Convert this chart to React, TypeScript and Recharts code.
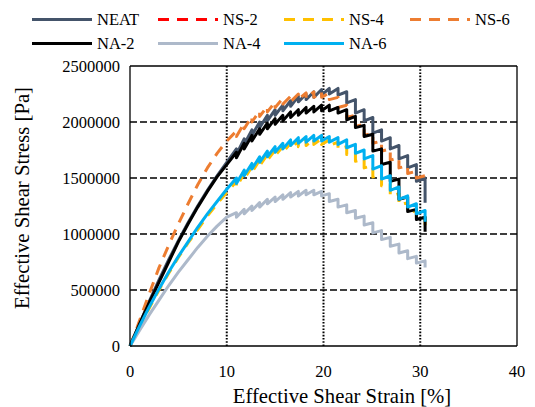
import React from 'react';
import { LineChart, Line, XAxis, YAxis, CartesianGrid, ReferenceLine } from 'recharts';

const FONT = '"Liberation Serif", "Times New Roman", serif';

// Strain positions [%]
const STRAIN_RISE = [0, 0.5, 1, 2, 3, 4, 5, 6, 7, 8, 9, 10];
const STRAIN_TEETH = [11.0, 11.8, 12.6, 13.4, 14.2, 15.0, 15.8, 16.6, 17.4, 18.2, 19.0, 19.8, 20.6, 21.5, 22.4, 23.3, 24.2, 25.1, 26.0, 26.9, 27.8, 28.7, 29.6, 30.5];

const X_TICKS = [0, 10, 20, 30, 40];
const Y_TICKS = [0, 500000, 1000000, 1500000, 2000000, 2500000];
const X_GRID = [10, 20, 30];
const Y_GRID = [500000, 1000000, 1500000, 2000000];

// NEAT
const NEAT_RISE = [0, 0.10e6, 0.20e6, 0.40e6, 0.59e6, 0.77e6, 0.94e6, 1.10e6, 1.25e6, 1.39e6, 1.52e6, 1.64e6];
const NEAT_TOP = [1.76e6, 1.85e6, 1.93e6, 2.00e6, 2.06e6, 2.11e6, 2.15e6, 2.19e6, 2.23e6, 2.25e6, 2.27e6, 2.29e6, 2.30e6, 2.30e6, 2.27e6, 2.20e6, 2.11e6, 2.04e6, 1.93e6, 1.86e6, 1.79e6, 1.70e6, 1.62e6, 1.50e6];
const NEAT_BOT = [1.71e6, 1.80e6, 1.88e6, 1.95e6, 2.01e6, 2.06e6, 2.10e6, 2.14e6, 2.18e6, 2.20e6, 2.22e6, 2.24e6, 2.25e6, 2.24e6, 2.17e6, 2.08e6, 2.01e6, 1.90e6, 1.83e6, 1.76e6, 1.67e6, 1.59e6, 1.47e6, 1.28e6];

// NS-4
const NS4_RISE = [0, 0.09e6, 0.18e6, 0.34e6, 0.50e6, 0.65e6, 0.79e6, 0.92e6, 1.04e6, 1.16e6, 1.27e6, 1.37e6];
const NS4_TOP = [1.47e6, 1.54e6, 1.60e6, 1.66e6, 1.71e6, 1.75e6, 1.78e6, 1.81e6, 1.83e6, 1.84e6, 1.85e6, 1.85e6, 1.84e6, 1.82e6, 1.78e6, 1.73e6, 1.67e6, 1.61e6, 1.53e6, 1.45e6, 1.36e6, 1.28e6, 1.21e6, 1.15e6];
const NS4_BOT = [1.42e6, 1.49e6, 1.55e6, 1.61e6, 1.66e6, 1.70e6, 1.73e6, 1.76e6, 1.78e6, 1.79e6, 1.80e6, 1.80e6, 1.79e6, 1.76e6, 1.71e6, 1.65e6, 1.59e6, 1.51e6, 1.43e6, 1.34e6, 1.26e6, 1.19e6, 1.13e6, 1.05e6];

// NS-6
const NS6_RISE = [0, 0.11e6, 0.23e6, 0.47e6, 0.70e6, 0.90e6, 1.09e6, 1.27e6, 1.44e6, 1.59e6, 1.72e6, 1.83e6];
const NS6_TOP = [1.92e6, 1.99e6, 2.05e6, 2.10e6, 2.14e6, 2.18e6, 2.21e6, 2.23e6, 2.25e6, 2.26e6, 2.27e6, 2.27e6, 2.26e6, 2.22e6, 2.15e6, 2.06e6, 1.98e6, 1.90e6, 1.83e6, 1.76e6, 1.68e6, 1.61e6, 1.56e6, 1.52e6];
const NS6_BOT = [1.87e6, 1.94e6, 2.00e6, 2.05e6, 2.09e6, 2.13e6, 2.16e6, 2.18e6, 2.20e6, 2.21e6, 2.22e6, 2.22e6, 2.20e6, 2.13e6, 2.04e6, 1.96e6, 1.88e6, 1.81e6, 1.74e6, 1.66e6, 1.59e6, 1.54e6, 1.50e6, 1.46e6];

// NA-2
const NA2_RISE = [0, 0.10e6, 0.20e6, 0.39e6, 0.57e6, 0.75e6, 0.93e6, 1.09e6, 1.24e6, 1.38e6, 1.51e6, 1.62e6];
const NA2_TOP = [1.73e6, 1.81e6, 1.88e6, 1.94e6, 1.99e6, 2.03e6, 2.06e6, 2.09e6, 2.11e6, 2.13e6, 2.14e6, 2.15e6, 2.15e6, 2.13e6, 2.11e6, 2.05e6, 1.97e6, 1.89e6, 1.76e6, 1.64e6, 1.49e6, 1.33e6, 1.22e6, 1.15e6];
const NA2_BOT = [1.68e6, 1.76e6, 1.83e6, 1.89e6, 1.94e6, 1.98e6, 2.01e6, 2.04e6, 2.06e6, 2.08e6, 2.09e6, 2.10e6, 2.10e6, 2.08e6, 2.02e6, 1.95e6, 1.87e6, 1.74e6, 1.62e6, 1.47e6, 1.31e6, 1.20e6, 1.13e6, 1.02e6];

// NA-4
const NA4_RISE = [0, 0.07e6, 0.14e6, 0.28e6, 0.41e6, 0.54e6, 0.66e6, 0.77e6, 0.88e6, 0.98e6, 1.07e6, 1.15e6];
const NA4_TOP = [1.19e6, 1.22e6, 1.25e6, 1.28e6, 1.31e6, 1.33e6, 1.35e6, 1.37e6, 1.38e6, 1.39e6, 1.39e6, 1.38e6, 1.36e6, 1.31e6, 1.26e6, 1.21e6, 1.16e6, 1.10e6, 1.03e6, 0.97e6, 0.91e6, 0.85e6, 0.80e6, 0.76e6];
const NA4_BOT = [1.15e6, 1.18e6, 1.21e6, 1.24e6, 1.27e6, 1.29e6, 1.31e6, 1.33e6, 1.34e6, 1.35e6, 1.35e6, 1.34e6, 1.29e6, 1.24e6, 1.19e6, 1.14e6, 1.08e6, 1.01e6, 0.95e6, 0.89e6, 0.83e6, 0.78e6, 0.74e6, 0.70e6];

// NA-6
const NA6_RISE = [0, 0.09e6, 0.18e6, 0.35e6, 0.51e6, 0.66e6, 0.80e6, 0.93e6, 1.06e6, 1.18e6, 1.29e6, 1.40e6];
const NA6_TOP = [1.50e6, 1.57e6, 1.63e6, 1.69e6, 1.74e6, 1.78e6, 1.81e6, 1.84e6, 1.86e6, 1.87e6, 1.88e6, 1.88e6, 1.87e6, 1.86e6, 1.84e6, 1.80e6, 1.75e6, 1.70e6, 1.61e6, 1.52e6, 1.42e6, 1.34e6, 1.27e6, 1.21e6];
const NA6_BOT = [1.45e6, 1.52e6, 1.58e6, 1.64e6, 1.69e6, 1.73e6, 1.76e6, 1.79e6, 1.81e6, 1.82e6, 1.83e6, 1.83e6, 1.82e6, 1.80e6, 1.77e6, 1.72e6, 1.67e6, 1.58e6, 1.49e6, 1.39e6, 1.31e6, 1.24e6, 1.18e6, 1.11e6];

function build(rise: number[], tops: number[], bots: number[]) {
  const pts: { x: number; y: number }[] = rise.map((y, i) => ({ x: STRAIN_RISE[i], y }));
  STRAIN_TEETH.forEach((x, i) => {
    pts.push({ x, y: tops[i] });
    pts.push({ x, y: bots[i] });
  });
  return pts;
}

const LEGEND = [
  { name: 'NEAT', color: '#44546A', dashed: false },
  { name: 'NS-2', color: '#FF0000', dashed: true },
  { name: 'NS-4', color: '#FFC000', dashed: true },
  { name: 'NS-6', color: '#ED7D31', dashed: true },
  { name: 'NA-2', color: '#000000', dashed: false },
  { name: 'NA-4', color: '#ADB9CA', dashed: false },
  { name: 'NA-6', color: '#00B0F0', dashed: false },
];

const SERIES = [
  { name: 'NEAT', color: '#44546A', dashed: false, data: build(NEAT_RISE, NEAT_TOP, NEAT_BOT) },
  { name: 'NS-4', color: '#FFC000', dashed: true, data: build(NS4_RISE, NS4_TOP, NS4_BOT) },
  { name: 'NS-6', color: '#ED7D31', dashed: true, data: build(NS6_RISE, NS6_TOP, NS6_BOT) },
  { name: 'NA-2', color: '#000000', dashed: false, data: build(NA2_RISE, NA2_TOP, NA2_BOT) },
  { name: 'NA-4', color: '#ADB9CA', dashed: false, data: build(NA4_RISE, NA4_TOP, NA4_BOT) },
  { name: 'NA-6', color: '#00B0F0', dashed: false, data: build(NA6_RISE, NA6_TOP, NA6_BOT) },
];

export default function App() {
  const tickStyle = { fill: '#000', fontSize: 16.5, fontFamily: FONT };
  return (
    <div style={{ position: 'absolute', left: 0, top: 0, width: 535, height: 407, background: '#fff', fontFamily: FONT }}>
      <LineChart width={535} height={407} margin={{ top: 66, right: 18, bottom: 0, left: 0 }}>
        <CartesianGrid horizontal vertical={false} stroke="#000" strokeWidth={1.5} strokeDasharray="7 3" horizontalValues={Y_GRID} />
        <CartesianGrid horizontal={false} vertical stroke="#000" strokeWidth={2} strokeDasharray="1.6 1.6" verticalValues={X_GRID} />
        <XAxis type="number" dataKey="x" domain={[0, 40]} ticks={X_TICKS} tickLine={false} tickSize={0} tickMargin={19} height={61}
          axisLine={{ stroke: '#000', strokeWidth: 1.3 }} tick={tickStyle} />
        <YAxis type="number" domain={[0, 2500000]} ticks={Y_TICKS} width={130} tickLine={false} tickSize={0} tickMargin={10}
          axisLine={{ stroke: '#000', strokeWidth: 1.3 }} tick={tickStyle} />
        <ReferenceLine y={2500000} stroke="#000" strokeWidth={1.3} />
        <ReferenceLine x={40} stroke="#000" strokeWidth={1.3} />
        {SERIES.map((s) => (
          <Line key={s.name} data={s.data} dataKey="y" type="linear" stroke={s.color} strokeWidth={3}
            strokeDasharray={s.dashed ? '11 8' : undefined} strokeLinejoin="round" dot={false} activeDot={false}
            isAnimationActive={false} />
        ))}
      </LineChart>
      <svg width={535} height={407} style={{ position: 'absolute', left: 0, top: 0, pointerEvents: 'none' }}>
        {LEGEND.map((l, i) => {
          const row = i < 4 ? 0 : 1;
          const col = i < 4 ? i : i - 4;
          const x0 = 32 + col * 126;
          const y = 19.5 + row * 24;
          return (
            <g key={l.name}>
              <line x1={x0} x2={x0 + 60} y1={y} y2={y} stroke={l.color} strokeWidth={3} strokeDasharray={l.dashed ? '11 8' : undefined} />
              <text x={x0 + 65} y={y} dominantBaseline="central" fontSize={16.5} fontFamily={FONT} fill="#000">{l.name}</text>
            </g>
          );
        })}
        <text x={342} y={396} textAnchor="middle" dominantBaseline="central" fontSize={20.7} fontFamily={FONT} fill="#000">Effective Shear Strain [%]</text>
        <text x={22} y={198} textAnchor="middle" dominantBaseline="central" fontSize={20.7} fontFamily={FONT} fill="#000" transform="rotate(-90 22 198)">Effective Shear Stress [Pa]</text>
      </svg>
    </div>
  );
}
